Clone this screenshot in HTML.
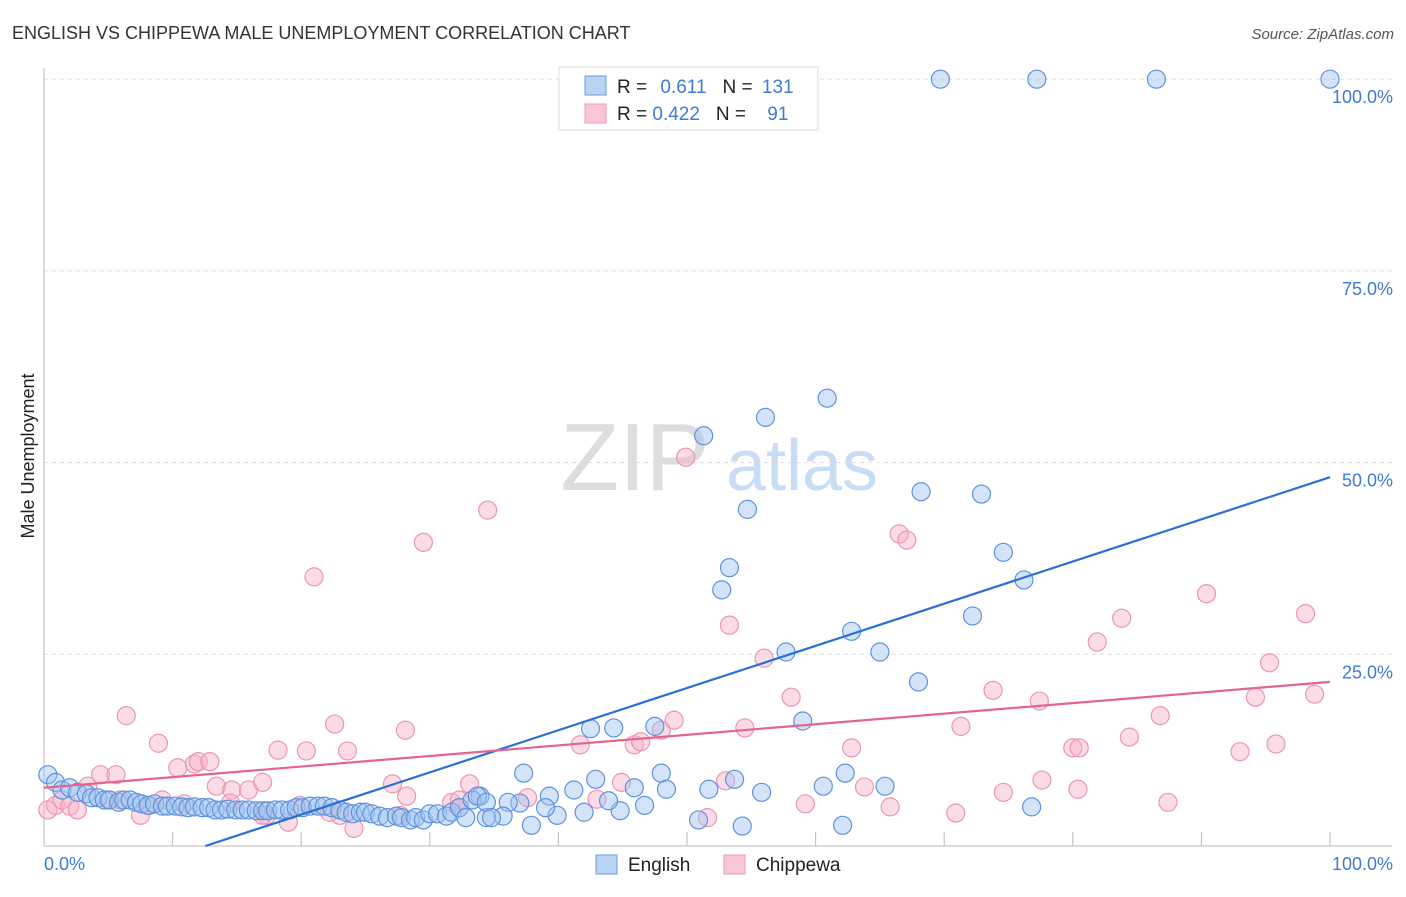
<!DOCTYPE html>
<html><head><meta charset="utf-8">
<style>
body{margin:0;background:#fff;font-family:"Liberation Sans",sans-serif;}
svg text{font-family:"Liberation Sans",sans-serif;}
</style></head>
<body>
<svg id="c" width="1406" height="892">
<text x="12" y="39" font-size="18" fill="#333">ENGLISH VS CHIPPEWA MALE UNEMPLOYMENT CORRELATION CHART</text>
<text x="1394" y="39" font-size="15" fill="#555" text-anchor="end" font-style="italic">Source: ZipAtlas.com</text>
<text x="34" y="456" font-size="18" fill="#222" text-anchor="middle" transform="rotate(-90 34 456)">Male Unemployment</text>
<text x="635" y="490" font-size="96" fill="#ddd" font-family="Liberation Serif" text-anchor="middle">ZIP</text>
<text x="802" y="490" font-size="72" fill="#c8dcf4" text-anchor="middle">atlas</text>
<g id="grid"></g>
<g id="pts"></g>
<g id="trend"></g>
<g>
<rect x="559" y="67" width="259" height="63" fill="#fff" stroke="#ddd"/>
<rect x="585" y="76" width="21" height="19" fill="#b9d3f4" stroke="#6b9ee0"/>
<rect x="585" y="104" width="21" height="19" fill="#f9c6d5" stroke="#ee9ab4"/>
<text x="617" y="93" font-size="19" fill="#222">R = <tspan fill="#3d7bd4" dx="8">0.611</tspan><tspan fill="#222" dx="16">N = </tspan><tspan fill="#3d7bd4" dx="4">131</tspan></text>
<text x="617" y="120" font-size="19" fill="#222">R = <tspan fill="#3d7bd4">0.422</tspan><tspan fill="#222" dx="16">N = </tspan><tspan fill="#3d7bd4" dx="16">91</tspan></text>
</g>
<g>
<rect x="596" y="855" width="21" height="19" fill="#b9d3f4" stroke="#6b9ee0"/>
<text x="628" y="871" font-size="19" fill="#222">English</text>
<rect x="724" y="855" width="21" height="19" fill="#f9c6d5" stroke="#ee9ab4"/>
<text x="756" y="871" font-size="19" fill="#222">Chippewa</text>
</g>
</svg>
<script>
const yTicks=[25,50,75,100];
const yTickLabels=["25.0%","50.0%","75.0%","100.0%"];
const englishX=[100,86.5,77.2,69.7,60.9,56.1,51.3,68.2,72.9,54.7,74.6,53.3,52.7,76.2,72.2,62.8,57.7,65.0,68.0,59.0,42.5,44.3,47.5,37.3,48.0,62.3,53.7,42.9,60.6,65.4,55.8,51.7,48.4,45.9,41.2,39.3,76.8,62.1,54.3,50.9,44.8,46.7,43.9,42.0,39.9,39.0,37.0,36.1,35.7,37.9,34.4,33.9,
0.3,0.9,1.4,2.0,2.6,3.3,3.7,4.2,4.7,5.1,5.8,6.2,6.7,7.2,7.6,8.1,8.6,9.2,9.6,10.2,10.7,11.2,11.7,12.3,12.8,13.3,13.8,14.3,14.9,15.4,15.9,16.5,17.0,17.4,18.0,18.5,19.1,19.6,20.1,20.7,21.3,21.8,22.4,23.0,23.5,24.0,24.6,25.0,25.5,26.1,26.7,27.4,27.8,28.5,28.9,29.5,30.0,30.6,31.3,31.7,32.3,32.8,33.3,33.7,34.4,34.8];
const englishY=[100,100,100,100,58.4,55.9,53.5,46.2,45.9,43.9,38.3,36.3,33.4,34.7,30.0,28.0,25.3,25.3,21.4,16.3,15.3,15.4,15.6,9.5,9.5,9.5,8.7,8.7,7.8,7.8,7.0,7.4,7.4,7.6,7.3,6.5,5.1,2.7,2.6,3.4,4.6,5.3,5.9,4.4,4.0,5.0,5.6,5.7,3.9,2.7,3.7,6.5,
9.3,8.3,7.3,7.6,7.0,6.8,6.3,6.3,6.0,6.0,5.7,6.0,6.0,5.7,5.5,5.3,5.5,5.2,5.2,5.2,5.1,5.0,5.1,5.0,5.0,4.7,4.7,4.8,4.7,4.7,4.7,4.6,4.6,4.6,4.7,4.7,4.7,5.0,5.0,5.2,5.2,5.2,5.0,4.7,4.4,4.2,4.4,4.4,4.2,3.9,3.7,3.9,3.7,3.4,3.7,3.4,4.2,4.2,3.9,4.4,5.0,3.7,6.0,6.5,5.7,3.7];
const chippewaX=[0.3,0.9,1.4,2.0,2.6,3.4,4.4,5.0,5.6,5.9,6.4,7.5,8.2,8.9,9.2,10.4,10.9,11.7,12.0,12.9,13.4,14.6,15.9,17.0,17.3,18.2,19.0,19.9,20.4,21.0,22.6,23.0,23.6,24.1,27.1,28.1,28.2,29.5,31.7,32.3,33.1,34.5,37.6,41.7,43.0,44.9,45.9,46.4,48.0,49.0,49.9,51.6,53.0,53.3,54.5,56.0,58.1,59.2,62.8,63.8,65.8,66.5,67.1,70.9,71.3,73.8,74.6,77.4,77.6,80.0,80.4,80.5,81.9,83.8,84.4,86.8,87.4,90.4,93.0,94.2,95.3,95.8,98.1,98.8,14.5,17.0,22.2,27.7,32.3];
const chippewaY=[4.7,5.3,6.0,5.2,4.7,7.8,9.3,6.0,9.3,6.0,17.0,4.0,5.3,13.4,6.0,10.2,5.5,10.7,11.0,11.0,7.8,7.3,7.3,8.3,4.0,12.5,3.1,5.3,12.4,35.1,15.9,4.0,12.4,2.3,8.1,15.1,6.5,39.6,5.7,5.0,8.1,43.8,6.3,13.2,6.1,8.3,13.2,13.6,15.1,16.4,50.7,3.7,8.5,28.8,15.4,24.5,19.4,5.5,12.8,7.7,5.1,40.7,39.9,4.3,15.6,20.3,7.0,18.9,8.6,12.8,7.4,12.8,26.6,29.7,14.2,17.0,5.7,32.9,12.3,19.4,23.9,13.3,30.3,19.8,5.6,4.0,4.4,4.0,6.0];
const englishTrend=[-6.9,0.55];
const chippewaTrend=[7.6,0.138];
const X=v=>44+v*12.86, Y=v=>846-v*7.668;
const NS="http://www.w3.org/2000/svg";
function mk(t,a,p){const e=document.createElementNS(NS,t);for(const k in a)e.setAttribute(k,a[k]);p.appendChild(e);return e;}
const grid=document.getElementById('grid');
yTicks.forEach((t,i)=>{
  const l=mk('line',{x1:44,x2:1392,y1:Y(t),y2:Y(t),stroke:'#ddd','stroke-dasharray':'4,4'},grid);
  
  
  const tx=mk('text',{x:1393,y:Y(t)+24,'font-size':18,fill:'#3d7bd4','text-anchor':'end'},grid);
  tx.textContent=yTickLabels[i];
  
  
});
const ax=mk('line',{x1:44,x2:44,y1:68,y2:846,stroke:'#bbb'},grid);


const bx=mk('line',{x1:44,x2:1392,y1:846,y2:846,stroke:'#bbb'},grid);


for(let t=10;t<=100;t+=10){const k=mk('line',{x1:X(t),x2:X(t),y1:832,y2:846,stroke:'#bbb'},grid);

}
[[0,'0.0%','start',44],[100,'100.0%','end',1393]].forEach(a=>{const t=mk('text',{x:a[3],y:870,'font-size':18,fill:'#3d7bd4','text-anchor':a[2]},grid);t.textContent=a[1];

});
const pts=document.getElementById('pts');
chippewaX.forEach((x,i)=>{const c=mk('circle',{cx:X(x),cy:Y(chippewaY[i]),r:9,fill:'rgba(247,178,200,0.45)',stroke:'#eb96b2','stroke-width':1.2},pts);

});
englishX.forEach((x,i)=>{const c=mk('circle',{cx:X(x),cy:Y(englishY[i]),r:9,fill:'rgba(160,196,240,0.45)',stroke:'#5e92de','stroke-width':1.2},pts);

});
const tr=document.getElementById('trend');
const x0=-englishTrend[0]/englishTrend[1];
const l1=mk('line',{x1:X(x0),y1:Y(0),x2:X(100),y2:Y(englishTrend[0]+englishTrend[1]*100),stroke:'#2a6fd6','stroke-width':2.2},tr);


const l2=mk('line',{x1:X(0),y1:Y(chippewaTrend[0]),x2:X(100),y2:Y(chippewaTrend[0]+chippewaTrend[1]*100),stroke:'#e5648e','stroke-width':2.2},tr);


</script>
</body></html>
